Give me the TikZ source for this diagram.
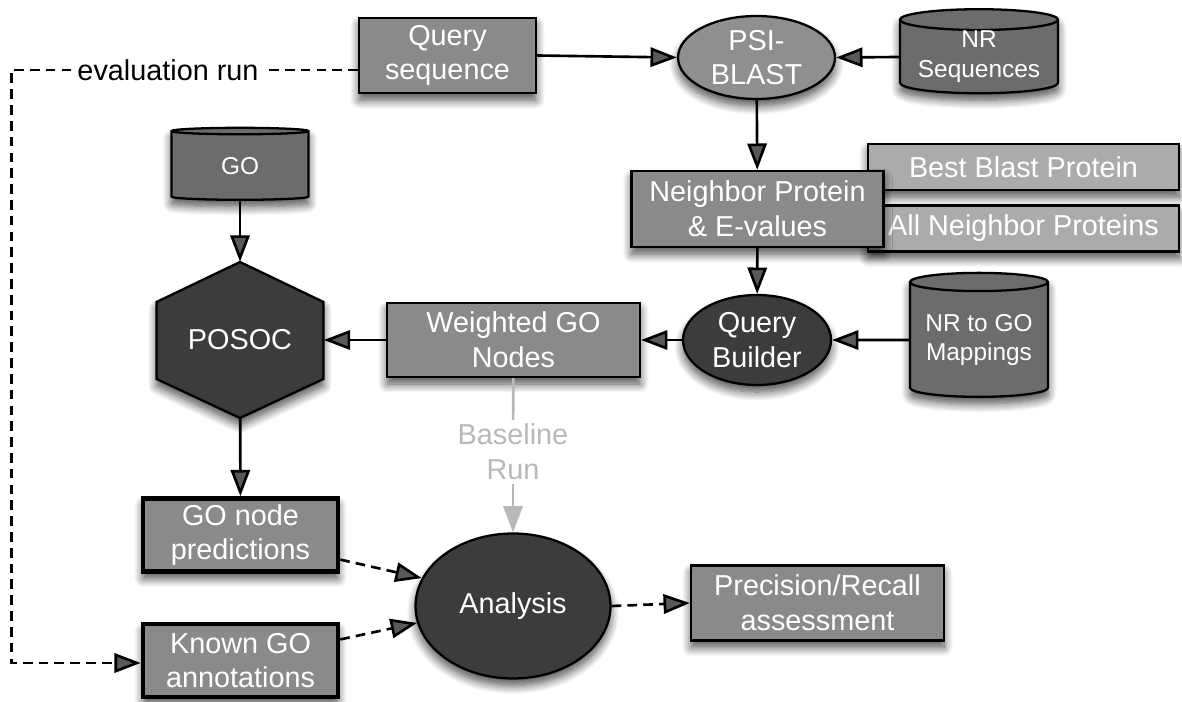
\documentclass[tikz,border=0pt]{standalone}
\usepackage{fontspec}
\setmainfont{Liberation Sans}
\usetikzlibrary{arrows.meta,shapes.geometric,shadows.blur}

\definecolor{boxgray}{HTML}{8A8A8A}
\definecolor{lightbox}{HTML}{ABABAB}
\definecolor{cylgray}{HTML}{6C6C6C}
\definecolor{darkgray}{HTML}{3C3C3C}
\definecolor{ovalgray}{HTML}{8F8F8F}
\definecolor{basegray}{HTML}{B8B8B8}

\begin{document}
\begin{tikzpicture}[x=0.02cm, y=-0.02cm,
  every node/.style={font=\fontsize{16.4}{19.8}\selectfont, align=center},
  shade/.style={blur shadow={shadow xshift=0pt, shadow yshift=-4pt, shadow blur radius=5pt, shadow blur steps=10, shadow opacity=70}},
  box/.style={rectangle, draw, line width=1.3pt, fill=boxgray, text=white, inner sep=0pt, shade},
  lbox/.style={box, fill=lightbox, minimum width=6.22cm, minimum height=0.92cm},
  heavy/.style={box, line width=2.6pt, minimum width=3.9cm, minimum height=1.46cm},
  oval/.style={ellipse, draw, line width=1.3pt, fill=ovalgray, text=white, inner sep=0pt, shade},
  db/.style={cylinder, shape border rotate=90, aspect=0.17, draw, line width=1.3pt, fill=cylgray, text=white, inner sep=0pt, font=\fontsize{13.9}{17}\selectfont, shade},
  arr/.style={line width=1.5pt, -{Triangle[length=15pt,width=11pt]}},
  dasharr/.style={arr, dash pattern=on 5.5pt off 3.5pt},
  dashline/.style={line width=1.5pt, dash pattern=on 5.5pt off 3.5pt}]

  \useasboundingbox (0,0) rectangle (1182,702);

  \node (query) at (447.5, 55.5) [box, minimum width=3.54cm, minimum height=1.5cm] {Query\\sequence};
  \node (psi) at (756.5, 57.5) [oval, minimum width=3.14cm, minimum height=1.66cm] {PSI-\\BLAST};
  \node (nrseq) at (979, 57) [db, minimum width=3.16cm, minimum height=1.44cm] {NR\\Sequences};

  \node (best) at (1023.5, 167) [lbox] {Best Blast Protein};
  \node (allnb) at (1023.5, 228.5) [lbox] {All Neighbor Proteins};
  \node (neighbor) at (757.5, 209) [box, minimum width=5.04cm, minimum height=1.52cm] {Neighbor Protein\\\& E-values};

  \node (qbuild) at (757, 340) [oval, fill=darkgray, minimum width=2.96cm, minimum height=1.8cm] {Query\\Builder};
  \node (nrgo) at (979, 340) [db, minimum width=2.76cm, minimum height=2.48cm] {NR to GO\\Mappings};
  \node (weighted) at (513.5, 340) [box, minimum width=5.06cm, minimum height=1.48cm] {Weighted GO\\Nodes};

  \node (go) at (240, 166) [db, minimum width=2.74cm, minimum height=1.44cm] {GO};
  \filldraw [fill=darkgray, line width=1.3pt, shade] (240,262) -- (323.5,302) -- (323.5,379) -- (240,418) -- (156.5,379) -- (156.5,302) -- cycle;
  \node (posoc) at (240, 340) [text=white, minimum width=3.34cm, minimum height=3.12cm, inner sep=0pt] {POSOC};

  \node (gopred) at (240.5, 535) [heavy] {GO node\\predictions};
  \node (known) at (240.5, 660.5) [heavy] {Known GO\\annotations};
  \node (analysis) at (513, 606) [oval, fill=darkgray, minimum width=3.9cm, minimum height=2.9cm] {Analysis};
  \node (prec) at (817.5, 603) [box, minimum width=5.06cm, minimum height=1.5cm] {Precision/Recall\\assessment};

  \node (evalrun) at (168, 70) {evaluation run};
  \node (baseline) at (513, 452) [text=basegray, inner sep=2pt] {Baseline\\Run};
  \coordinate (ctop) at (11.5, 70);
  \coordinate (cbot) at (11.5, 663);

  \draw [arr] (query.east) -- (psi.west);
  \draw [arr] (nrseq.west) -- (psi.east);
  \draw [arr] (psi) -- (neighbor);
  \draw [arr] (neighbor) -- (qbuild);
  \draw [arr] (nrgo) -- (qbuild);
  \draw [arr] (qbuild) -- (weighted);
  \draw [arr] (weighted) -- (posoc);
  \draw [arr] (go) -- (posoc);
  \draw [arr] (posoc) -- (gopred);

  \draw [line width=1.5pt, basegray] (weighted) -- (baseline);
  \draw [arr, basegray] (baseline) -- (analysis);

  \draw [dashline] (evalrun.east -| query.west) -- (evalrun.east);
  \draw [dasharr] (evalrun.west) -- (ctop) -- (cbot) -- (cbot -| known.west);
  \draw [dasharr] ([yshift=-14pt]gopred.east) -- (analysis.163);
  \draw [dasharr] ([yshift=12pt]known.east) -- (analysis.190);
  \draw [dasharr] (analysis.east) -- (prec.west);
\end{tikzpicture}
\end{document}
